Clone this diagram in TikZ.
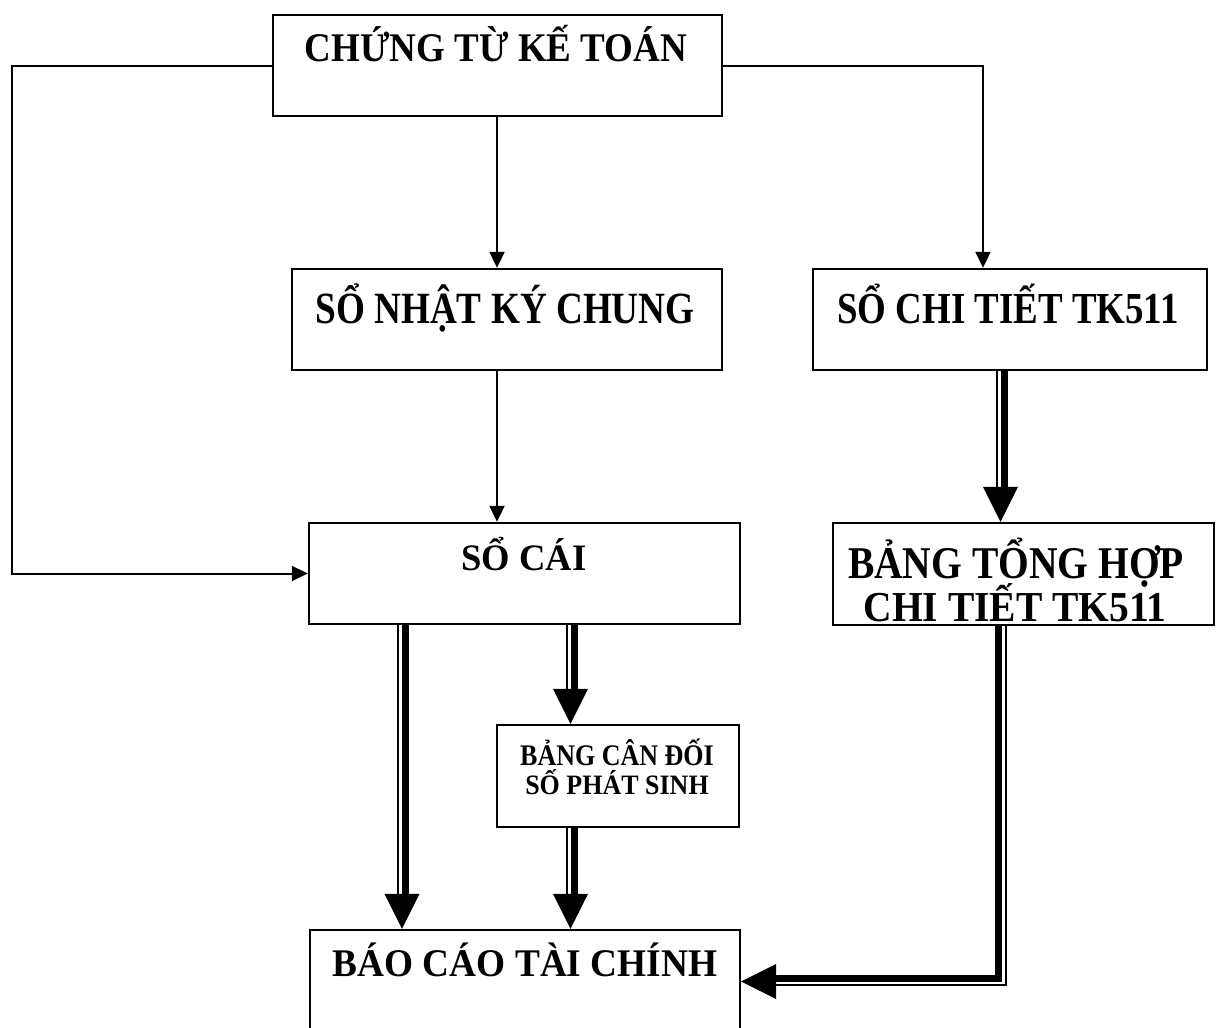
\documentclass[tikz,border=0pt]{standalone}
\usepackage{fontspec}
\setmainfont{Liberation Serif}
\usetikzlibrary{arrows.meta,calc}

% text line: #1 = size, #2 = vertical stretch, #3 = text
\newcommand\boxtext[3]{\scalebox{1}[#2]{\fontsize{#1}{#1}\selectfont\bfseries #3}}

% double rail arrow pointing down: #1 start point, #2 tip point
\newcommand\railsdown[2]{%
  \draw[thinrail]  ($(#1)+(-3.8,0)$) -- ($(#2)+(-3.8,-34)$);
  \draw[thickrail] ($(#1)+(3.8,0)$)  -- ($(#2)+(3.8,-34)$);
  \fill (#2) -- ($(#2)+(-17.5,-35)$) -- ($(#2)+(17.5,-35)$) -- cycle;
}

\begin{document}
\begin{tikzpicture}[x=1pt,y=-1pt,
  box/.style={draw, line width=2.4pt, inner sep=0pt},
  lbl/.style={anchor=base, inner sep=0pt},
  conn/.style={line width=2pt, -{Triangle[length=16pt,width=15pt]}},
  thinrail/.style={line width=2.2pt},
  thickrail/.style={line width=7pt}
]
\useasboundingbox (0,0) rectangle (1216,1028);
\clip (0,0) rectangle (1216,1028);

% boxes
\node[box, minimum width=449pt, minimum height=101pt] (ct)  at (497.5,65.5) {};
\node[box, minimum width=430pt, minimum height=101pt] (nkc) at (507,319.5) {};
\node[box, minimum width=394pt, minimum height=101pt] (sct) at (1010,319.5) {};
\node[box, minimum width=431pt, minimum height=101pt] (sc)  at (524.5,573.5) {};
\node[box, minimum width=381pt, minimum height=102pt] (bth) at (1023.5,574) {};
\node[box, minimum width=242pt, minimum height=102pt] (bcd) at (618,776) {};
\node[box, minimum width=430pt, minimum height=110pt] (bc)  at (525,985) {};

% labels
\node[lbl] (ctT)   at (496,61)   {\boxtext{37}{1.1}{CHỨNG TỪ KẾ TOÁN}};
\node[lbl] (nkcT)  at (505,323)  {\boxtext{37.2}{1.2}{SỔ NHẬT KÝ CHUNG}};
\node[lbl] (sctT)  at (1008,323) {\boxtext{36.9}{1.2}{SỔ CHI TIẾT TK511}};
\node[lbl] (scT)   at (524,570)  {\boxtext{36.6}{1.02}{SỔ CÁI}};
\node[lbl] (bthT1) at (1016,578) {\boxtext{39.5}{1.15}{BẢNG TỔNG HỢP}};
\node[lbl] (bthT2) at (1015,621) {\boxtext{39.5}{1.08}{CHI TIẾT TK511}};
\node[lbl] (bcdT1) at (617,765)  {\boxtext{26}{1.15}{BẢNG CÂN ĐỐI}};
\node[lbl] (bcdT2) at (617,794)  {\boxtext{26}{1.08}{SỐ PHÁT SINH}};
\node[lbl] (bcT)   at (525,976)  {\boxtext{37.3}{1.05}{BÁO CÁO TÀI CHÍNH}};

% single-line connectors
\coordinate (lc) at (12,0);
\coordinate (rc) at (983,0);
\coordinate (mc) at (497,0);
\draw[conn] (ct.west) -- (ct.west -| lc) -- (sc.west -| lc) -- (sc.west);
\draw[conn] (ct.east) -- (ct.east -| rc) -- (sct.north -| rc);
\draw[conn] (ct.south -| mc) -- (nkc.north -| mc);
\draw[conn] (nkc.south -| mc) -- (sc.north -| mc);

% double-rail connectors
\coordinate (xa) at (402,0);
\coordinate (xb) at (570.5,0);
\coordinate (xd) at (1000.5,0);
\coordinate (a0) at (sc.south -| xa);
\coordinate (a1) at (bc.north -| xa);
\coordinate (b0) at (sc.south -| xb);
\coordinate (b1) at (bcd.north -| xb);
\coordinate (c0) at (bcd.south -| xb);
\coordinate (c1) at (bc.north -| xb);
\coordinate (d0) at (sct.south -| xd);
\coordinate (d1) at (bth.north -| xd);
\railsdown{a0}{a1}
\railsdown{b0}{b1}
\railsdown{c0}{c1}
\railsdown{d0}{d1}

% bent double rail into the report box
\coordinate (xe) at (1002,0);
\coordinate (ye) at (0,981.5);
\coordinate (e0) at (bth.south -| xe);
\coordinate (e1) at (bc.east |- ye);
\draw[thickrail] ($(e0)+(-4,0)$) |- ($(e1)+(34,-3.5)$);
\draw[thinrail]  ($(e0)+(4,0)$)  |- ($(e1)+(34,3.5)$);
\fill (e1) -- ($(e1)+(35,-17.5)$) -- ($(e1)+(35,17.5)$) -- cycle;
\end{tikzpicture}
\end{document}
